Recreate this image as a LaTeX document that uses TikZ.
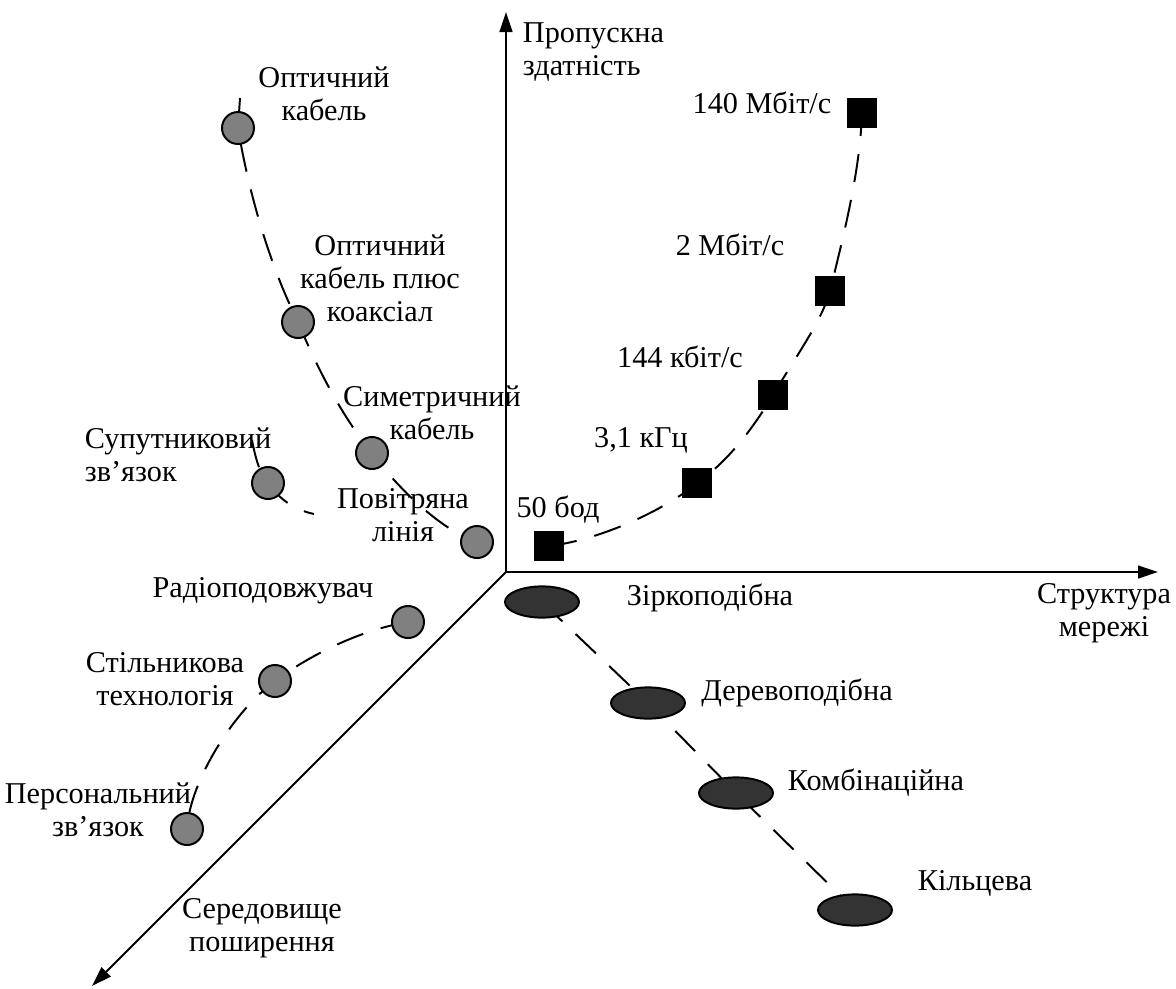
\documentclass[tikz,border=0pt]{standalone}
\usepackage{fontspec}
\setmainfont{Liberation Serif}
\usetikzlibrary{arrows.meta,backgrounds,shapes.geometric}

\tikzset{
  medium/.style={circle, draw, line width=1.4pt, fill=gray, minimum size=0.8cm, inner sep=0pt},
  speedmark/.style={rectangle, fill=black, minimum size=0.74cm, inner sep=0pt},
  topology/.style={ellipse, draw, line width=1.4pt, fill=black!80, minimum width=1.85cm, minimum height=0.78cm, inner sep=0pt},
  chain/.style={line width=1.4pt, dash pattern=on 20pt off 13pt},
  axis/.style={line width=1.4pt, -{Triangle[length=0.5cm,width=0.32cm]}}
}

\begin{document}
\begin{tikzpicture}[x=0.025cm, y=-0.025cm, every node/.style={align=center, font=\fontsize{21.5}{23.5}\selectfont}]
\useasboundingbox (0,0) rectangle (1176,988);

% Axes
\coordinate (origin) at (506,572);
\coordinate (ytip) at (506,12);
\coordinate (xtip) at (1158,572);
\coordinate (ztip) at (92,986);
\draw[axis] (origin) -- (ytip);
\draw[axis] (origin) -- (xtip);
\draw[axis] (origin) -- (ztip);

\node (ylbl) [anchor=west, align=left] at (518,52) {Пропускна\\здатність};
\node (xlbl) at (1104,613) {Структура\\мережі};
\node (zlbl) at (262,928) {Середовище\\поширення};

% Capacity
\node (baud) [speedmark] at (549,546) {};
\node (khz) [speedmark] at (697,483) {};
\node (kbit) [speedmark] at (773,395) {};
\node (mbit) [speedmark] at (830,291) {};
\node (mbitmax) [speedmark] at (862,113) {};

\node (baudlbl) at (558,510) {50 бод};
\node (khzlbl) at (641,440) {3,1 кГц};
\node (kbitlbl) at (680,357) {144 кбіт/с};
\node (mbitlbl) at (730,245) {2 Мбіт/с};
\node (mbitmaxlbl) at (762,103) {140 Мбіт/с};

% Propagation media
\node (optic) [medium] at (238,128) {};
\node (opticcoax) [medium] at (298,322) {};
\node (symm) [medium] at (372,453) {};
\node (air) [medium] at (477,542) {};
\node (sat) [medium] at (268,483) {};
\node (radio) [medium] at (408,622) {};
\node (cell) [medium] at (275,681) {};
\node (personal) [medium] at (187,829) {};

\node (opticlbl) at (324,94) {Оптичний\\кабель};
\node (opticcoaxlbl) at (380,278) {Оптичний\\кабель плюс\\коаксіал};
\node (symmlbl) at (432,413) {Симетричний\\кабель};
\node (satlbl) [anchor=west, align=left] at (80,455) {Супутниковий\\зв’язок};
\node (airlbl) at (403,515) {Повітряна\\лінія};
\node (radiolbl) at (263,591) {Радіоподовжувач};
\node (celllbl) at (165,679) {Стільникова\\технологія};
\node (personallbl) at (98,810) {Персональний\\зв’язок};

% Network structure
\node (star) [topology] at (542,602) {};
\node (tree) [topology] at (648,703) {};
\node (combo) [topology] at (736,793) {};
\node (ring) [topology] at (855,910) {};

\node (starlbl) at (710,598) {Зіркоподібна};
\node (treelbl) at (797,693) {Деревоподібна};
\node (combolbl) at (876,783) {Комбінаційна};
\node (ringlbl) at (975,883) {Кільцева};

% Dashed chains behind the marks
\coordinate (optictop) at (240,98);
\coordinate (sattop) at (252,440);
\coordinate (satend) at (314,514);
\begin{pgfonlayer}{background}
\draw[chain] (optictop) -- (optic.center) .. controls (250,200) and (272,270) .. (opticcoax.center)
  .. controls (320,375) and (345,420) .. (symm.center)
  .. controls (395,485) and (440,530) .. (air.center);
\draw[chain] (sattop) .. controls (256,462) and (262,478) .. (sat.center) .. controls (280,500) and (295,510) .. (satend);
\draw[chain] (radio.center) .. controls (360,630) and (310,655) .. (cell.center)
  .. controls (235,710) and (190,780) .. (personal.center);
\draw[chain] (baud.center) .. controls (600,540) and (665,510) .. (khz.center)
  .. controls (730,460) and (755,425) .. (kbit.center)
  .. controls (800,350) and (822,320) .. (mbit.center)
  .. controls (845,230) and (860,170) .. (mbitmax.center);
\draw[chain] (star.center) -- (tree.center) -- (combo.center) -- (ring.center);
\end{pgfonlayer}

\end{tikzpicture}
\end{document}
